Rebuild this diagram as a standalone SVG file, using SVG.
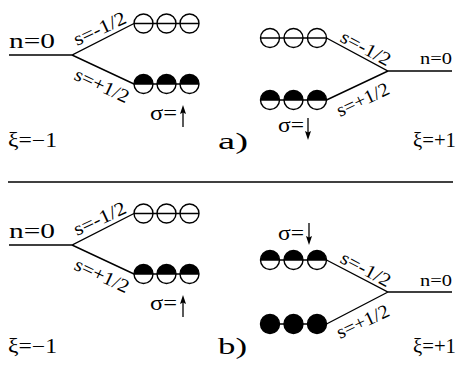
<svg xmlns="http://www.w3.org/2000/svg" width="458" height="382" viewBox="0 0 458 382">
<style>
text{font-family:"Liberation Serif","Times New Roman",serif;fill:#000}
.lb{font-size:20px}
.sl{font-size:19px}
.pl{font-size:24px}
.ln{stroke:#000;stroke-width:1.4;fill:none}
.c{fill:#fff;stroke:#000;stroke-width:1.4}
.as{stroke:#000;stroke-width:1.3;fill:none}
.ah{fill:#000;stroke:none}
</style>
<defs>
<g id="eo"><circle r="9.5" class="c"/></g>
<g id="eh"><circle r="9.5" class="c"/><path d="M-9.5,0A9.5,9.5 0 0 1 9.5,0Z" fill="#000"/></g>
<g id="ef"><circle r="9.5" fill="#000" stroke="#000" stroke-width="1.4"/></g>
<g id="up"><path class="as" d="M0,22V6"/><path class="ah" d="M0,0L3,9L0,7.5L-3,9Z"/></g>
<g id="dn"><path class="as" d="M0,0V16"/><path class="ah" d="M0,22L3,13L0,14.5L-3,13Z"/></g>
</defs>
<rect width="458" height="382" fill="#fff"/>
<g id="connectors">
<path class="ln" d="M9,55H72L134,23.5M72,55L134,84"/>
<path class="ln" d="M452,71H388L326.5,38M388,71L326.5,100"/>
<path class="ln" d="M9,245H72L134,213.5M72,245L134,274"/>
<path class="ln" d="M452,292H388L326.5,260M388,292L326.5,324"/>
<path class="ln" d="M8,182H453"/>
</g>
<g id="a-left-upper"><use href="#eo" x="143.5" y="23.5"/><use href="#eo" x="166.5" y="23.5"/><use href="#eo" x="189.5" y="23.5"/><path class="ln" d="M134,23.5H199"/></g>
<g id="a-left-lower"><use href="#eh" x="143.5" y="84"/><use href="#eh" x="166.5" y="84"/><use href="#eh" x="189.5" y="84"/><path class="ln" d="M134,84H199"/></g>
<g id="a-right-upper"><use href="#eo" x="270" y="38"/><use href="#eo" x="293.5" y="38"/><use href="#eo" x="317" y="38"/><path class="ln" d="M260.5,38H326.5"/></g>
<g id="a-right-lower"><use href="#eh" x="270" y="100"/><use href="#eh" x="293.5" y="100"/><use href="#eh" x="317" y="100"/><path class="ln" d="M260.5,100H326.5"/></g>
<g id="b-left-upper"><use href="#eo" x="143.5" y="213.5"/><use href="#eo" x="166.5" y="213.5"/><use href="#eo" x="189.5" y="213.5"/><path class="ln" d="M134,213.5H199"/></g>
<g id="b-left-lower"><use href="#eh" x="143.5" y="274"/><use href="#eh" x="166.5" y="274"/><use href="#eh" x="189.5" y="274"/><path class="ln" d="M134,274H199"/></g>
<g id="b-right-upper"><use href="#eh" x="270" y="260"/><use href="#eh" x="293.5" y="260"/><use href="#eh" x="317" y="260"/><path class="ln" d="M260.5,260H326.5"/></g>
<g id="b-right-lower"><use href="#ef" x="270" y="324"/><use href="#ef" x="293.5" y="324"/><use href="#ef" x="317" y="324"/><path class="ln" d="M260.5,324H326.5"/></g>
<g id="labels">
<text class="lb" x="9" y="48" textLength="46" lengthAdjust="spacingAndGlyphs">n=0</text>
<text class="lb" x="420" y="64" textLength="32" lengthAdjust="spacingAndGlyphs" style="font-size:17px">n=0</text>
<text class="lb" x="9" y="238" textLength="46" lengthAdjust="spacingAndGlyphs">n=0</text>
<text class="lb" x="420" y="286" textLength="32" lengthAdjust="spacingAndGlyphs" style="font-size:17px">n=0</text>
<text class="lb" x="8" y="147" textLength="49" lengthAdjust="spacingAndGlyphs">ξ=−1</text>
<text class="lb" x="413" y="147" textLength="43" lengthAdjust="spacingAndGlyphs">ξ=+1</text>
<text class="lb" x="8" y="353" textLength="49" lengthAdjust="spacingAndGlyphs">ξ=−1</text>
<text class="lb" x="413" y="353" textLength="43" lengthAdjust="spacingAndGlyphs">ξ=+1</text>
<text class="pl" x="218" y="149" textLength="30" lengthAdjust="spacingAndGlyphs">a)</text>
<text class="pl" x="218" y="354" textLength="29" lengthAdjust="spacingAndGlyphs">b)</text>
<text class="sl" transform="translate(77,46) rotate(-25)" textLength="56" lengthAdjust="spacingAndGlyphs">s=-1/2</text>
<text class="sl" transform="translate(73,79) rotate(25)" textLength="58" lengthAdjust="spacingAndGlyphs">s=+1/2</text>
<text class="sl" transform="translate(77,236) rotate(-25)" textLength="56" lengthAdjust="spacingAndGlyphs">s=-1/2</text>
<text class="sl" transform="translate(73,269) rotate(25)" textLength="58" lengthAdjust="spacingAndGlyphs">s=+1/2</text>
<text class="sl" transform="translate(339,41) rotate(28)" textLength="54" lengthAdjust="spacingAndGlyphs">s=-1/2</text>
<text class="sl" transform="translate(340,117) rotate(-25)" textLength="56" lengthAdjust="spacingAndGlyphs">s=+1/2</text>
<text class="sl" transform="translate(339,262) rotate(28)" textLength="54" lengthAdjust="spacingAndGlyphs">s=-1/2</text>
<text class="sl" transform="translate(340,339) rotate(-25)" textLength="56" lengthAdjust="spacingAndGlyphs">s=+1/2</text>
<text class="lb" x="150" y="120" textLength="27" lengthAdjust="spacingAndGlyphs">σ=</text>
<use href="#up" x="183" y="105"/>
<text class="lb" x="150" y="310" textLength="27" lengthAdjust="spacingAndGlyphs">σ=</text>
<use href="#up" x="183" y="295"/>
<text class="lb" x="278" y="132" textLength="26" lengthAdjust="spacingAndGlyphs">σ=</text>
<use href="#dn" x="308" y="118"/>
<text class="lb" x="278" y="240" textLength="26" lengthAdjust="spacingAndGlyphs">σ=</text>
<use href="#dn" x="309" y="223"/>
</g>
</svg>
